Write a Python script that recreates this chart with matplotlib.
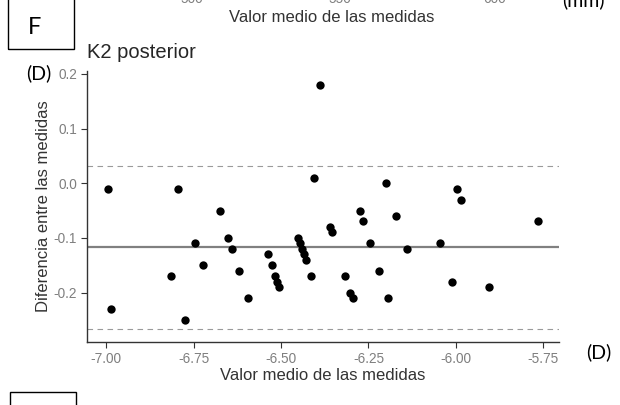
import matplotlib
matplotlib.use("Agg")
import matplotlib.pyplot as plt
from matplotlib.patches import Rectangle

# ---- data ----
x_mean = [-6.995, -6.986, -6.795, -6.814, -6.775, -6.745, -6.724, -6.674, -6.651,
          -6.641, -6.621, -6.594, -6.536, -6.527, -6.517, -6.511, -6.506, -6.451,
          -6.446, -6.440, -6.435, -6.430, -6.415, -6.407, -6.390, -6.359, -6.355,
          -6.316, -6.302, -6.295, -6.274, -6.265, -6.245, -6.221, -6.201, -6.194,
          -6.171, -6.140, -6.046, -6.010, -5.997, -5.986, -5.905, -5.766]
y_diff = [-0.01, -0.23, -0.01, -0.17, -0.25, -0.11, -0.15, -0.05, -0.10,
          -0.12, -0.16, -0.21, -0.13, -0.15, -0.17, -0.18, -0.19, -0.10,
          -0.11, -0.12, -0.13, -0.14, -0.17, 0.01, 0.18, -0.08, -0.09,
          -0.17, -0.20, -0.21, -0.05, -0.07, -0.11, -0.16, 0.00, -0.21,
          -0.06, -0.12, -0.11, -0.18, -0.01, -0.03, -0.19, -0.07]
mean_diff = -0.117
loa_upper = 0.032
loa_lower = -0.267
x_ticks = [-7.00, -6.75, -6.50, -6.25, -6.00, -5.75]
x_tick_labels = ["-7.00", "-6.75", "-6.50", "-6.25", "-6.00", "-5.75"]
y_ticks = [-0.2, -0.1, 0.0, 0.1, 0.2]
y_tick_labels = ["-0.2", "-0.1", "0.0", "0.1", "0.2"]
top_tick_labels = ["500", "550", "600"]

W, H = 620, 405
fig = plt.figure(figsize=(W / 100, H / 100), dpi=100)
fig.patch.set_facecolor("white")

def fx(px):
    return px / W

def fy(py):
    return 1 - py / H

SANS = ["Liberation Sans", "DejaVu Sans"]
CAL = ["Lato", "DejaVu Sans"]

ax = fig.add_axes([fx(86.7), fy(342), fx(559) - fx(86.7), fy(70.7) - fy(342)])
ax.scatter(x_mean, y_diff, s=36, color="black", zorder=3, linewidths=0)
ax.axhline(mean_diff, color="#808080", lw=1.6, zorder=2)
ax.axhline(loa_upper, color="#9a9a9a", lw=0.8, ls=(0, (5, 4)), zorder=2)
ax.axhline(loa_lower, color="#9a9a9a", lw=0.8, ls=(0, (5, 4)), zorder=2)

ax.set_xlim(-7.056, -5.705)
ax.set_ylim(-0.2906, 0.206)
ax.set_xticks(x_ticks)
ax.set_xticklabels(x_tick_labels)
ax.set_yticks(y_ticks)
ax.set_yticklabels(y_tick_labels)
for s in ["top", "right"]:
    ax.spines[s].set_visible(False)
for s in ["left", "bottom"]:
    ax.spines[s].set_color("#333333")
    ax.spines[s].set_linewidth(1.0)
ax.tick_params(axis="both", direction="out", length=4, width=0.8, color="#333333",
               labelcolor="#7f7f7f", labelsize=9.8, pad=3)
for lab in ax.get_xticklabels() + ax.get_yticklabels():
    lab.set_family(SANS)

ax.set_xlabel("Valor medio de las medidas", fontsize=12, color="#333333", family=SANS, labelpad=2)
ax.set_ylabel("Diferencia entre las medidas", fontsize=12, color="#333333", family=SANS, labelpad=2)

# title
fig.text(fx(87), fy(53), "K2 posterior", fontsize=14.5, color="#262626", family=SANS,
         ha="left", va="center")

# remnants of upper panel
for lbl, px in zip(top_tick_labels, [192, 340, 495]):
    fig.text(fx(px), fy(3), lbl, fontsize=9.8, color="#7f7f7f", family=SANS,
             ha="center", va="baseline")
fig.text(fx(332), fy(17), "Valor medio de las medidas", fontsize=12, color="#333333",
         family=SANS, ha="center", va="center")
fig.text(fx(583), fy(6), "(mm)", fontsize=14, color="black", family=CAL,
         ha="center", va="baseline")

# annotations
fig.text(fx(39), fy(73), "(D)", fontsize=14, color="black", family=CAL,
         ha="center", va="center")
fig.text(fx(599), fy(352), "(D)", fontsize=14, color="black", family=CAL,
         ha="center", va="center")

# boxes
fig.patches.append(Rectangle((fx(8), fy(49)), fx(74) - fx(8), fy(-5) - fy(49),
                             transform=fig.transFigure, fill=False, ec="black", lw=1.0,
                             clip_on=False))
fig.text(fx(35), fy(27), "F", fontsize=17, color="black", family=CAL,
         ha="center", va="center")
fig.patches.append(Rectangle((fx(10), fy(410)), fx(76) - fx(10), fy(392) - fy(410),
                             transform=fig.transFigure, fill=False, ec="black", lw=1.0,
                             clip_on=False))

fig.savefig("out.png", dpi=100, facecolor="white")
